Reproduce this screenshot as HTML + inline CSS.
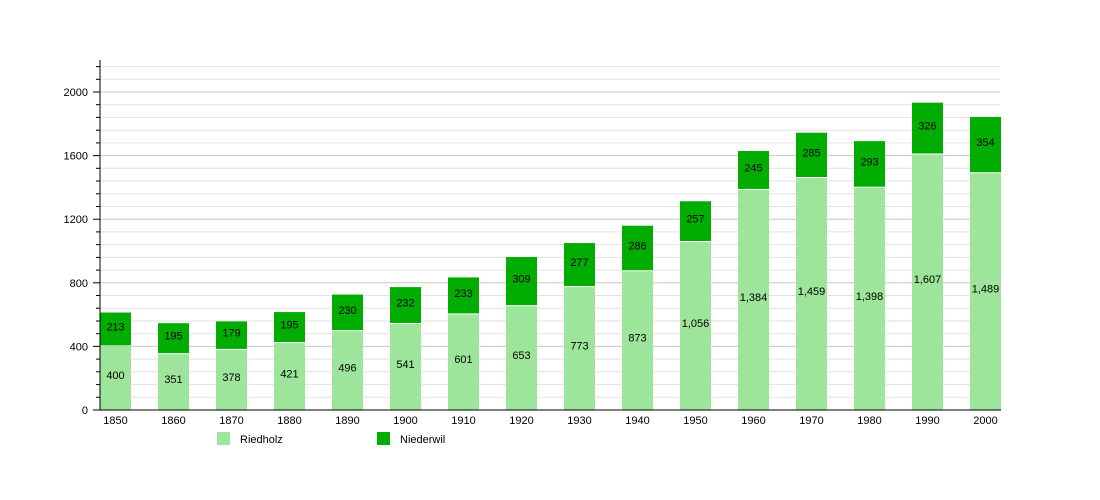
<!DOCTYPE html>
<html><head><meta charset="utf-8"><style>
html,body{margin:0;padding:0;background:#fff;width:1100px;height:500px;overflow:hidden}
text{font-family:"Liberation Sans",sans-serif;font-size:11px;fill:#000}
</style></head><body>
<svg id="s" width="1100" height="500" xmlns="http://www.w3.org/2000/svg"></svg>
<script>
var R=[400,351,378,421,496,541,601,653,773,873,1056,1384,1459,1398,1607,1489];
var N=[213,195,179,195,230,232,233,309,277,286,257,245,285,293,326,354];
var k=318/2000,y0=410,h='';
function Y(v){return y0-v*k;}
for(var v=80;v<=2160;v+=80){var y=Y(v).toFixed(1);var maj=v%400==0;
h+='<line x1="100" x2="1000" y1="'+y+'" y2="'+y+'" stroke="'+(maj?'#c8c8c8':'#e2e2e2')+'" stroke-width="1"/>';
h+='<line x1="'+(maj?93:96)+'" x2="100" y1="'+y+'" y2="'+y+'" stroke="#000"/>';}
for(var v=0;v<=2000;v+=400){h+='<text x="88" y="'+(Y(v)+4)+'" text-anchor="end">'+v+'</text>';}
function f(n){return n>=1000?Math.floor(n/1000)+','+String(n%1000).padStart(3,'0'):''+n;}
for(var i=0;i<16;i++){var x=100+i*58,cx=x+15.5;var yr=Y(R[i]),yn=Y(R[i]+N[i]);
h+='<rect x="'+x+'" y="'+yr+'" width="31" height="'+(y0-yr)+'" fill="#9de59b"/>';
h+='<rect x="'+x+'" y="'+yn+'" width="31" height="'+(yr-yn-1)+'" fill="#00ad00"/>';
h+='<text x="'+cx+'" y="'+((yr+y0)/2+1)+'" text-anchor="middle">'+f(R[i])+'</text>';
h+='<text x="'+cx+'" y="'+((yr+yn)/2+1)+'" text-anchor="middle">'+N[i]+'</text>';
h+='<text x="'+cx+'" y="424" text-anchor="middle">'+(1850+i*10)+'</text>';}
h+='<line x1="100" x2="100" y1="60" y2="410" stroke="#000"/><line x1="93" x2="1001" y1="410" y2="410" stroke="#000"/>';
h+='<rect x="217" y="432" width="13" height="13" fill="#9de59b"/><text x="240" y="443">Riedholz</text>';
h+='<rect x="377" y="432" width="13" height="13" fill="#00ad00"/><text x="400" y="443">Niederwil</text>';
document.getElementById('s').innerHTML=h;
</script>
</body></html>
